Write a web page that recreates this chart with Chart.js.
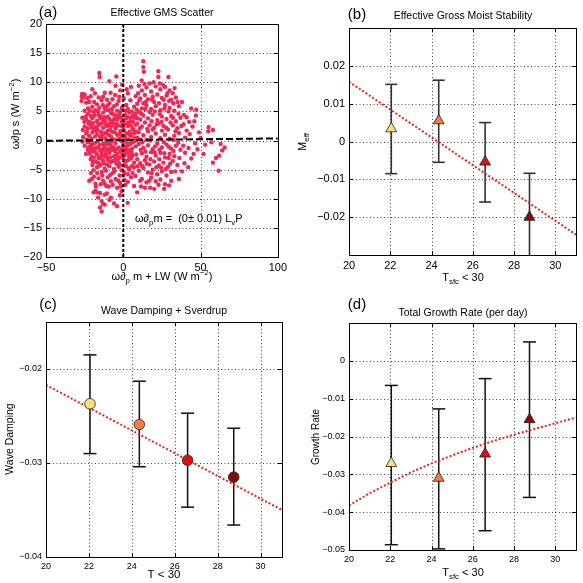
<!DOCTYPE html>
<html>
<head>
<meta charset="utf-8">
<script src="https://cdn.jsdelivr.net/npm/chart.js"></script>
<style>
  body { margin: 0; background: #fff; }
  #wrap { position: relative; width: 583px; height: 583px; background: #fff; }
  canvas { position: absolute; }
</style>
</head>
<body>
<div id="wrap">
  <canvas id="panelA" width="291" height="291" style="left:0;top:0"></canvas>
  <canvas id="panelB" width="292" height="291" style="left:291px;top:0"></canvas>
  <canvas id="panelC" width="291" height="292" style="left:0;top:291px"></canvas>
  <canvas id="panelD" width="292" height="292" style="left:291px;top:291px"></canvas>
</div>
<script>
  const FONT = '"Liberation Sans", Arial, Helvetica, sans-serif';

  // (a) effective GMS scatter, [x, y]
  const scatterPairs = [
    // core
    [-20,5.8],[-17,6.2],[-12,5.6],[-9,6.4],[-6,5.9],[-3,6.8],[-1,5.5],[2,6.1],[-14,6.9],[-7,7.1],[-24,6.5],[-25,7.9],[-26,7.4],[-22,6.6],
    [-23,4.6],[-21,4.2],[-19,4.9],[-16,4.4],[-13,4.8],[-10,4.1],[-8,4.7],[-5,4.3],[-2,4.9],[1,4.4],[4,4.8],[6,4.2],[-18,5.2],[-11,5.3],[-4,5.1],[3,5.4],[-25,5.1],
    [-24,3.6],[-22,3.2],[-20,3.8],[-17,3.4],[-15,3.9],[-12,3.3],[-9,3.7],[-7,3.1],[-4,3.6],[-1,3.2],[2,3.8],[5,3.3],[7,3.9],[-14,2.9],[-6,2.8],[0,2.7],
    [-25,2.4],[-23,2.1],[-21,2.7],[-18,2.3],[-16,2.6],[-13,2.2],[-11,2.8],[-8,2.4],[-5,2.1],[-3,2.6],[0,2.2],[3,2.5],[6,2.1],[8,2.7],[-19,1.8],[-10,1.7],[-2,1.6],[4,1.5],
    [-24,1.2],[-22,0.8],[-20,1.4],[-17,1.1],[-15,0.6],[-12,1.3],[-9,0.9],[-7,1.5],[-4,1.0],[-1,0.7],[2,1.2],[5,0.8],[7,1.3],[9,0.5],[-26,0.6],[-14,0.3],[-6,0.2],[1,0.1],
    [-23,-0.3],[-21,-0.8],[-18,-0.4],[-16,-1.1],[-13,-0.6],[-11,-0.2],[-8,-0.9],[-5,-0.5],[-3,-1.2],[0,-0.4],[3,-0.8],[6,-0.3],[8,-1.0],[-25,-0.9],[-19,-1.4],[-10,-1.5],[-1,-1.6],[4,-1.7],
    [-22,-2.2],[-20,-1.9],[-17,-2.4],[-14,-2.0],[-12,-2.6],[-9,-2.1],[-6,-2.7],[-4,-2.3],[-2,-1.9],[1,-2.5],[3,-2.1],[6,-2.6],[-23,-1.6],[-15,-1.7],[-7,-1.6],
    [-21,-3.2],[-18,-3.6],[-16,-3.0],[-13,-3.4],[-10,-3.1],[-8,-3.7],[-5,-3.3],[-3,-3.8],[0,-3.0],[2,-3.5],[5,-3.1],[7,-3.8],[-19,-2.9],[-11,-2.8],
    [-20,-4.2],[-17,-4.6],[-15,-4.3],[-12,-4.8],[-9,-4.4],[-6,-4.9],[-3,-4.5],[-1,-5.1],[2,-4.4],[4,-5.0],[-14,-5.4],[-7,-5.6],
    [-21.5,5.1],[-18.5,4.3],[-15.5,5.6],[-12.5,4.0],[-9.5,5.2],[-6.5,4.5],[-3.5,4.0],[-0.5,5.8],[2.5,4.1],[5.5,5.0],
    [-22.5,2.9],[-19.5,3.0],[-16.5,3.1],[-13.5,3.6],[-10.5,2.5],[-7.5,3.4],[-4.5,2.9],[-1.5,3.9],[1.5,2.9],[4.5,3.9],
    [-23.5,0.2],[-20.5,0.3],[-17.5,1.7],[-14.5,1.5],[-11.5,0.4],[-8.5,1.8],[-5.5,1.4],[-2.5,0.3],[0.5,1.7],[3.5,0.2],[6.5,1.9],
    [-22.5,-1.2],[-19.5,-0.6],[-16.5,-0.1],[-13.5,-1.6],[-10.5,-0.7],[-7.5,-0.2],[-4.5,-1.5],[-1.5,-0.1],[1.5,-1.1],[4.5,-0.6],[7.5,-0.1],
    [-20.5,-2.8],[-17.5,-1.3],[-14.5,-3.1],[-11.5,-1.9],[-8.5,-2.9],[-5.5,-1.8],[-2.5,-2.9],[0.5,-1.8],[3.5,-3.3],[-15.5,-4.0],[-10.5,-4.1],[-4.5,-4.0],[0.5,-4.3],[5.5,-4.4],
    [-24.3,4.1],[-22.7,5.5],[-20.2,2.2],[-18.8,6.6],[-16.2,5.0],[-14.8,4.2],[-13.2,6.1],[-11.7,3.9],[-10.2,6.0],[-8.8,2.9],[-7.3,5.4],[-5.8,3.7],[-4.2,6.2],[-2.7,4.4],[-1.2,2.5],[0.3,3.5],[1.8,5.1],[3.3,3.1],[4.8,2.6],[6.2,3.2],[7.7,4.6],[9.2,3.8],
    [-25.2,3.2],[-23.6,1.5],[-21.8,-0.2],[-20.3,-1.3],[-18.2,0.7],[-16.7,1.9],[-15.2,-0.7],[-13.8,0.9],[-12.3,-1.2],[-10.8,1.2],[-9.3,-0.4],[-7.8,0.6],[-6.3,-1.2],[-4.8,2.2],[-3.3,0.2],[-1.8,1.1],[-0.3,-0.9],[1.2,0.6],[2.7,-0.5],[4.2,1.0],[5.7,-1.4],[7.2,0.4],[8.6,1.5],
    [-24.1,-2.3],[-21.2,-1.7],[-19.8,-3.6],[-18.1,-2.0],[-16.6,-3.8],[-14.2,-2.6],[-12.7,-3.9],[-11.1,-2.4],[-9.7,-3.4],[-8.1,-1.5],[-6.6,-3.5],[-5.1,-2.6],[-3.6,-3.2],[-2.1,-4.2],[-0.6,-2.4],[0.9,-3.6],[2.4,-1.6],[3.9,-2.7],[5.4,-2.0],[6.9,-4.6],[8.4,-2.4],
    [-19.3,-5.1],[-16.9,-5.6],[-13.6,-6.0],[-11.2,-5.2],[-8.4,-5.9],[-5.7,-5.3],[-2.4,-6.0],[0.7,-5.5],[3.6,-4.8],[6.1,-5.6],
    [-23.2,7.3],[-21.1,7.6],[-18.3,8.1],[-15.9,7.4],[-13.1,7.5],[-10.6,7.0],[-8.2,8.2],[-5.3,7.8],[-2.6,7.5],[0.4,7.2],[2.2,8.8],[4.6,6.9],[-0.8,9.6],
    // upper right
    [10,9.4],[12,8.6],[15,9.1],[18,8.4],[21,9.3],[24,8.8],[27,9.2],[30,8.6],[32,8.1],[17,9.8],[26,9.5],[11.9,10.3],
    [8,7.6],[11,7.2],[14,7.8],[16,7.1],[19,7.5],[22,7.9],[25,7.3],[28,7.7],[31,7.0],[34,7.4],[20,6.6],[13,6.4],
    [7,5.8],[9,6.3],[12,5.5],[15,6.0],[18,5.4],[21,5.9],[24,5.2],[27,6.1],[30,5.6],[33,5.1],[36,5.9],[38,6.6],[10,4.9],
    [8,4.1],[11,3.6],[13,4.3],[16,3.8],[19,4.4],[22,3.5],[25,4.1],[28,3.7],[31,4.2],[34,3.3],[37,3.9],[17,4.9],
    [9,2.9],[12,2.4],[14,3.1],[17,2.6],[20,2.2],[23,2.9],[26,2.5],[29,1.9],[32,2.6],[35,2.1],[39,2.8],[41,1.7],
    [10,1.4],[13,0.9],[16,1.6],[18,0.6],[21,1.2],[24,0.4],[27,1.0],[30,0.3],[33,0.8],[36,1.3],[40,0.5],[43,1.1],[11,0.2],[15,0.1],[19,1.9],[25,1.7],
    [9.6,8.1],[13.7,9.7],[19.6,10.0],[23.6,9.8],[28.6,8.1],[33.2,9.0],[10.4,6.9],[14.6,6.6],[18.7,7.0],[23.1,6.4],[26.2,7.0],[29.6,6.8],[32.4,6.4],[35.1,6.6],
    [8.7,5.3],[11.6,4.6],[14.3,5.4],[20.4,5.0],[23.7,4.5],[26.6,5.5],[29.3,5.0],[32.1,3.9],[35.7,4.6],[39.2,4.4],[42.6,3.2],
    [10.7,2.1],[15.5,2.0],[18.3,3.3],[21.6,2.8],[24.8,3.2],[27.7,2.2],[30.6,3.1],[33.8,1.6],[37.6,2.5],[44.8,2.4],
    // lower right
    [10,-0.6],[13,-1.3],[16,-0.8],[19,-1.5],[22,-0.5],[25,-1.2],[28,-0.7],[31,-1.4],[34,-0.9],[37,-1.6],[12,-2.2],[15,-2.8],[18,-2.0],[21,-2.6],[24,-2.1],[27,-2.9],[30,-2.3],[33,-2.7],[9,-3.2],
    [11,-3.9],[14,-3.4],[17,-4.1],[20,-3.6],[23,-4.3],[26,-3.8],[29,-4.5],[32,-3.5],[35,-4.2],[10,-5.2],[13,-4.7],[16,-5.5],[19,-5.0],[22,-5.8],[25,-5.3],[28,-6.0],[31,-5.4],
    [8,-6.1],[12,-6.6],[15,-7.2],[18,-6.4],[21,-7.0],[24,-6.7],[27,-7.5],[31,-6.9],[7,-7.8],[14,-8.1],[20,-8.3],[26.4,-8.3],[9,-8.9],[3,-7.1],[5,-6.3],[1,-6.8],[3,-5.8],
    [12.3,-0.3],[17.4,0.0],[20.6,-1.0],[23.4,-1.6],[26.3,-0.3],[29.5,-1.1],[32.6,0.1],[35.6,-0.4],[38.8,-0.9],[42.2,-1.3],[46.5,-0.5],
    [11.3,-1.6],[14.4,-1.9],[17.6,-3.2],[20.3,-2.0],[23.3,-3.2],[26.6,-2.2],[29.4,-3.0],[32.5,-1.8],[36.3,-3.0],[39.6,-3.9],
    [12.4,-4.4],[15.2,-4.0],[18.4,-5.6],[21.4,-4.6],[24.5,-4.7],[27.5,-4.9],[30.3,-4.0],[33.6,-5.3],[9.3,-4.4],[10.9,-6.9],[16.8,-6.9],[22.8,-7.6],[29.6,-7.7],[17.4,-8.1],[11.5,-7.9],
    // lower left
    [-21,-5.6],[-19,-6.2],[-16,-6.5],[-13,-6.9],[-10,-6.3],[-8,-7.0],[-5,-6.6],[-2,-7.3],[0,-6.0],[-18,-7.4],[-11,-7.8],[-4,-8.1],[-1,-8.7],[-22,-6.9],
    [-17,-8.9],[-15,-9.0],[-12,-9.3],[-8,-9.8],[-14,-10.4],[-9,-10.2],[-15,-11.5],[-14,-12.2],[-12,-11.0],[-4,-11.3],[2.8,-10.7],[-6,-10.8],[-18,-8.6],
    [-20.5,-6.6],[-17.7,-7.9],[-14.6,-7.5],[-12.1,-7.4],[-9.4,-7.9],[-6.8,-7.6],[-3.2,-6.9],[-1.5,-7.9],[1.4,-7.6],[-16.3,-9.8],[-10.6,-9.1],[-13.2,-10.9],[-19.2,-8.9],[-2.2,-9.4],
    // outliers
    [13,13.6],[13,12.6],[13.3,11.8],[-15.5,11.6],[-15.3,10.9],[-4.5,11.0],[22.7,11.9],[22.7,10.9],[29.2,10.9],[-9,10.2],[-5,9.4],[-20,8.8],[-12,8.2],[-2,8.6],[3,8.1],[5,9.2],
    [-26.6,8.0],[-26.8,7.5],[-27,6.8],[-26.5,3.9],[-26.2,1.8],[-26.4,-0.2],
    [47.2,5.3],[47,4.3],[46,3.3],[45.5,-2.3],[52,-2.3],[55.2,2.3],[55,1.6],[58,1.8],[61.7,-5.2],[65.6,-1.2],[64,-1.7],[60,-3.0],[57,-0.3],[50,0.4],
    [44,-3.1],[42,-4.6],[40,-2.1],[49,1.4],[53,-0.7],[62,-2.6],[38,-5.3],[36,-6.6],[48,-1.5],[58,-3.8],[63,-0.6],[44,5.5],[41,4.0]
  ];
  const gmsZeroX = [0, 0];
  const gmsZeroY = [-20, 20];
  const gmsFitX = [-50, 100];
  const gmsFitY = [-0.05, 0.35];
  const gmsTicksX = [-50, 0, 50, 100];
  const gmsTicksY = [-20, -15, -10, -5, 0, 5, 10, 15, 20];

  // shared temperature bins and colours
  const tempBins = [22.05, 24.35, 26.6, 28.75];
  const binColors = ['#f8e17c', '#f47a45', '#e30f0f', '#8a0909'];
  const tempTicks = [20, 22, 24, 26, 28, 30];

  // (b) effective gross moist stability
  const meffValues = [0.0034, 0.0055, -0.0054, -0.0200];
  const meffLower = [-0.0085, -0.0055, -0.0160, -0.0350];
  const meffUpper = [0.0151, 0.0162, 0.0050, -0.0084];
  const meffFitX = [20, 31];
  const meffFitY = [0.0158, -0.0246];
  const meffTicks = [-0.02, -0.01, 0, 0.01, 0.02];

  // (c) wave damping + Sverdrup
  const dampValues = [-0.0237, -0.0259, -0.0297, -0.0315];
  const dampLower = [-0.0290, -0.0304, -0.0347, -0.0366];
  const dampUpper = [-0.0185, -0.0213, -0.0247, -0.0263];
  const dampFitX = [20, 31];
  const dampFitY = [-0.0217, -0.0350];
  const dampTicks = [-0.04, -0.03, -0.02];

  // (d) total growth rate
  const growthValues = [-0.0271, -0.0310, -0.0246, -0.0155];
  const growthLower = [-0.0486, -0.0497, -0.0449, -0.0361];
  const growthUpper = [-0.0065, -0.0127, -0.0047, 0.0050];
  const growthFitX = [20, 21, 22, 23, 24, 25, 26, 27, 28, 29, 30, 31];
  const growthFitY = [-0.0382, -0.0350, -0.0322, -0.0295, -0.0271, -0.0250, -0.0230, -0.0212, -0.0195, -0.0180, -0.0165, -0.0150];
  const growthTicks = [-0.05, -0.04, -0.03, -0.02, -0.01, 0];

  const toPoints = (xs, ys) => xs.map((x, i) => ({ x, y: ys[i] }));
  const fmtTick = v => (v < 0 ? '\u2212' : '') + String(Math.abs(+(+v).toFixed(3)));

  function drawRich(ctx, parts, x, y, size, rotate, align) {
    const fontOf = p => `${p.sub || p.sup ? size * 0.72 : size}px ${FONT}`;
    ctx.save();
    ctx.translate(x, y);
    if (rotate) ctx.rotate(-Math.PI / 2);
    let total = 0;
    parts.forEach(p => { ctx.font = fontOf(p); total += ctx.measureText(p.t).width; });
    let cx = align === 'left' ? 0 : -total / 2;
    ctx.textBaseline = 'middle';
    ctx.textAlign = 'left';
    ctx.fillStyle = '#000';
    parts.forEach(p => {
      ctx.font = fontOf(p);
      const dy = p.sub ? size * 0.38 : p.sup ? -size * 0.42 : 0;
      ctx.fillText(p.t, cx, dy);
      cx += ctx.measureText(p.t).width;
    });
    ctx.restore();
  }

  function line(ctx, x1, y1, x2, y2) {
    ctx.beginPath();
    ctx.moveTo(x1, y1);
    ctx.lineTo(x2, y2);
    ctx.stroke();
  }

  const framePlugin = {
    id: 'frame',
    beforeDatasetsDraw(chart, args, o) {
      const { ctx, chartArea: a, scales: { x, y } } = chart;
      ctx.save();
      ctx.strokeStyle = '#444';
      ctx.lineWidth = 1;
      ctx.setLineDash([1, 2.5]);
      o.gridX.forEach(v => { const px = Math.round(x.getPixelForValue(v)) + 0.5; line(ctx, px, a.top, px, a.bottom); });
      o.gridY.forEach(v => { const py = Math.round(y.getPixelForValue(v)) + 0.5; line(ctx, a.left, py, a.right, py); });
      ctx.setLineDash([]);
      if (o.bars) {
        const b = o.bars;
        ctx.beginPath();
        ctx.rect(a.left, a.top, a.right - a.left, a.bottom - a.top);
        ctx.clip();
        ctx.strokeStyle = b.color;
        ctx.lineWidth = b.width;
        b.x.forEach((v, i) => {
          const px = x.getPixelForValue(v);
          const lo = y.getPixelForValue(b.lo[i]);
          const hi = y.getPixelForValue(b.hi[i]);
          line(ctx, px, lo, px, hi);
          line(ctx, px - b.cap, lo, px + b.cap, lo);
          line(ctx, px - b.cap, hi, px + b.cap, hi);
        });
      }
      ctx.restore();
    },
    afterDatasetsDraw(chart, args, o) {
      const { ctx, chartArea: a, scales: { x, y } } = chart;
      ctx.save();
      ctx.strokeStyle = '#000';
      ctx.lineWidth = 1;
      ctx.strokeRect(Math.round(a.left) + 0.5, Math.round(a.top) + 0.5, Math.round(a.right - a.left), Math.round(a.bottom - a.top));
      const t = 4;
      o.ticksX.forEach(v => {
        const px = Math.round(x.getPixelForValue(v)) + 0.5;
        line(ctx, px, a.bottom, px, a.bottom - t);
        line(ctx, px, a.top, px, a.top + t);
      });
      o.ticksY.forEach(v => {
        const py = Math.round(y.getPixelForValue(v)) + 0.5;
        line(ctx, a.left, py, a.left + t, py);
        line(ctx, a.right, py, a.right - t, py);
      });
      ctx.restore();
    },
    afterDraw(chart, args, o) {
      const { ctx, scales: { x, y } } = chart;
      o.texts.forEach(tx => {
        const px = tx.dataX !== undefined ? x.getPixelForValue(tx.dataX) : tx.x;
        const py = tx.dataY !== undefined ? y.getPixelForValue(tx.dataY) : tx.y;
        drawRich(ctx, tx.parts, px, py, tx.size, tx.rotate, tx.align);
      });
    }
  };

  function axis(min, max, ticks, size, fontSize, isX) {
    return {
      type: 'linear', min, max,
      afterBuildTicks: s => { s.ticks = ticks.map(v => ({ value: v })); },
      afterFit: s => { if (isX) s.height = size; else s.width = size; },
      grid: { display: false, drawTicks: false },
      border: { display: false },
      ticks: {
        font: { family: FONT, size: fontSize }, color: '#000',
        padding: 4, maxRotation: 0, autoSkip: false,
        callback: v => fmtTick(v)
      }
    };
  }

  function makePanel(id, cfg) {
    return new Chart(document.getElementById(id), {
      type: 'scatter',
      data: { datasets: cfg.datasets },
      options: {
        animation: false, responsive: false, devicePixelRatio: 1,
        layout: { padding: cfg.padding },
        plugins: { legend: { display: false }, tooltip: { enabled: false }, frame: cfg.frame },
        scales: { x: cfg.x, y: cfg.y }
      },
      plugins: [framePlugin]
    });
  }

  const fitLine = (xs, ys) => ({
    data: toPoints(xs, ys), showLine: true, pointRadius: 0, borderColor: '#e8231f',
    borderWidth: 2, borderDash: [2, 2], order: 1
  });
  const markers = (ys, style, r) => ({
    data: toPoints(tempBins, ys), pointStyle: style, pointRadius: r, pointHoverRadius: r,
    backgroundColor: binColors, borderColor: '#222', borderWidth: 0.8, order: 0
  });
  const title = (t, x, y) => ({ parts: [{ t }], x, y, size: 10.5 });
  const label = (t, x, y) => ({ parts: [{ t }], x, y, size: 15 });

  makePanel('panelA', {
    padding: { top: 24, right: 13, left: 0, bottom: 0 },
    x: axis(-50, 100, gmsTicksX, 34, 11, true),
    y: axis(-20, 20, gmsTicksY, 46, 11, false),
    datasets: [
      { data: toPoints(gmsZeroX, gmsZeroY), showLine: true, pointRadius: 0, borderColor: '#000', borderWidth: 2, borderDash: [3, 2], order: 0 },
      { data: toPoints(gmsFitX, gmsFitY), showLine: true, pointRadius: 0, borderColor: '#000', borderWidth: 2, borderDash: [7, 3], order: 0 },
      { data: scatterPairs.map(([x, y]) => ({ x, y })), pointRadius: 2.2, backgroundColor: 'rgb(240,40,85)', borderWidth: 0, order: 1 }
    ],
    frame: {
      gridX: [50], gridY: gmsTicksY, ticksX: gmsTicksX, ticksY: gmsTicksY,
      texts: [
        label('(a)', 48, 13),
        title('Effective GMS Scatter', 162, 13),
        { parts: [{ t: '\u03c9\u2202p s (W m' }, { t: '\u22122', sup: true }, { t: ')' }], x: 16, y: 114, size: 11, rotate: true },
        { parts: [{ t: '\u03c9\u2202' }, { t: 'p', sub: true }, { t: ' m + LW (W m' }, { t: '\u22122', sup: true }, { t: ')' }], x: 162, y: 277, size: 11 },
        { parts: [{ t: '\u03c9\u2202' }, { t: 'p', sub: true }, { t: 'm =  (0\u00b1 0.01) L' }, { t: 'v', sub: true }, { t: 'P' }], dataX: 7.6, dataY: -13.4, size: 11, align: 'left' }
      ]
    }
  });

  makePanel('panelB', {
    padding: { top: 28, right: 6, left: 0, bottom: 0 },
    x: axis(20, 31, tempTicks, 36, 11, true),
    y: axis(-0.03, 0.03, meffTicks, 58, 11, false),
    datasets: [markers(meffValues, 'triangle', 6.3), fitLine(meffFitX, meffFitY)],
    frame: {
      gridX: tempTicks.slice(1), gridY: meffTicks, ticksX: tempTicks, ticksY: meffTicks,
      bars: { x: tempBins, lo: meffLower, hi: meffUpper, color: '#333', width: 1.6, cap: 6 },
      texts: [
        label('(b)', 66, 15),
        title('Effective Gross Moist Stability', 172, 16),
        { parts: [{ t: 'M' }, { t: 'eff', sub: true }], x: 12, y: 142, size: 11, rotate: true },
        { parts: [{ t: 'T' }, { t: 'sfc', sub: true }, { t: ' < 30' }], x: 172, y: 278, size: 11 }
      ]
    }
  });

  makePanel('panelC', {
    padding: { top: 31, right: 9, left: 0, bottom: 0 },
    x: axis(20, 31, tempTicks, 26, 9, true),
    y: axis(-0.04, -0.015, dampTicks, 46, 9, false),
    datasets: [markers(dampValues, 'circle', 5.3), fitLine(dampFitX, dampFitY)],
    frame: {
      gridX: tempTicks.slice(1), gridY: dampTicks, ticksX: tempTicks, ticksY: dampTicks,
      bars: { x: tempBins, lo: dampLower, hi: dampUpper, color: '#111', width: 1.5, cap: 6.5 },
      texts: [
        label('(c)', 48, 14),
        title('Wave Damping + Sverdrup', 164, 20),
        { parts: [{ t: 'Wave Damping' }], x: 10, y: 148, size: 10.5, rotate: true },
        { parts: [{ t: 'T < 30' }], x: 164, y: 284, size: 11.5 }
      ]
    }
  });

  makePanel('panelD', {
    padding: { top: 32, right: 6, left: 0, bottom: 0 },
    x: axis(20, 31, tempTicks, 33, 9, true),
    y: axis(-0.05, 0.01, growthTicks, 58, 9, false),
    datasets: [markers(growthValues, 'triangle', 6.3), fitLine(growthFitX, growthFitY)],
    frame: {
      gridX: tempTicks.slice(1), gridY: growthTicks, ticksX: tempTicks, ticksY: growthTicks,
      bars: { x: tempBins, lo: growthLower, hi: growthUpper, color: '#111', width: 1.5, cap: 6.5 },
      texts: [
        label('(d)', 66, 14),
        title('Total Growth Rate (per day)', 172, 22),
        { parts: [{ t: 'Growth Rate' }], x: 25, y: 146, size: 10, rotate: true },
        { parts: [{ t: 'T' }, { t: 'sfc', sub: true }, { t: ' < 30' }], x: 172, y: 282, size: 11 }
      ]
    }
  });
</script>
</body>
</html>
